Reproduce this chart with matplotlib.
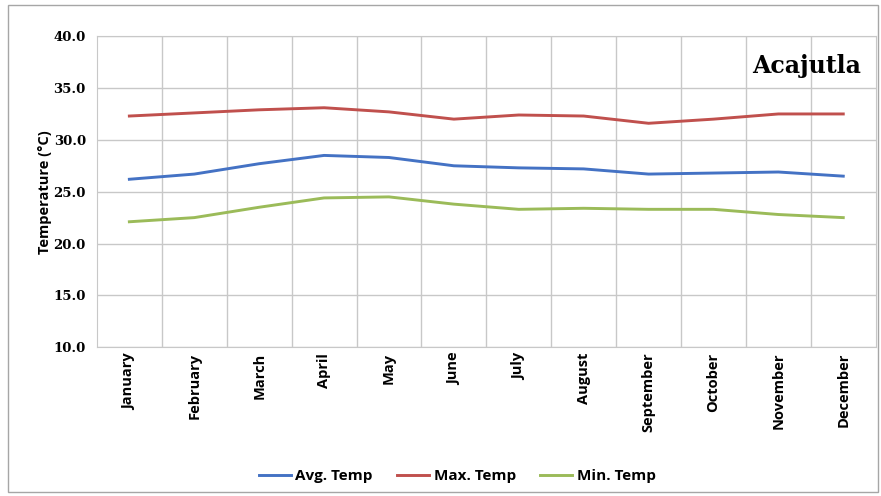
import numpy as np
import matplotlib.pyplot as plt
from matplotlib.patches import Rectangle

months = ['January', 'February', 'March', 'April', 'May', 'June',
          'July', 'August', 'September', 'October', 'November', 'December']
avg_temp = [26.2, 26.7, 27.7, 28.5, 28.3, 27.5, 27.3, 27.2, 26.7, 26.8, 26.9, 26.5]
max_temp = [32.3, 32.6, 32.9, 33.1, 32.7, 32.0, 32.4, 32.3, 31.6, 32.0, 32.5, 32.5]
min_temp = [22.1, 22.5, 23.5, 24.4, 24.5, 23.8, 23.3, 23.4, 23.3, 23.3, 22.8, 22.5]

fig = plt.figure(figsize=(8.81, 4.96), dpi=100)
ax = fig.add_axes([0.110, 0.300, 0.884, 0.627])

# outer chart border
fig.patches.append(Rectangle((0.009, 0.008), 0.988, 0.982, transform=fig.transFigure,
                             fill=False, edgecolor='#a6a6a6', linewidth=1.0))

x = np.arange(len(months))
ax.plot(x, avg_temp, color='#4472C4', lw=2.1, label='Avg. Temp')
ax.plot(x, max_temp, color='#C0504D', lw=2.1, label='Max. Temp')
ax.plot(x, min_temp, color='#9BBB59', lw=2.1, label='Min. Temp')

ax.set_xlim(-0.5, 11.5)
ax.set_ylim(10, 40)
ax.set_yticks(np.arange(10, 40.1, 5))
ax.set_yticklabels(['%.1f' % v for v in np.arange(10, 40.1, 5)],
                   fontfamily='DejaVu Serif', fontweight='bold', fontsize=9.5)
ax.set_xticks(x)
ax.set_xticklabels(months, rotation=90, fontfamily='Open Sans', fontweight='bold', fontsize=10.5)
ax.set_xticks(np.arange(0.5, 11, 1), minor=True)
ax.tick_params(axis='both', which='both', length=0)
ax.tick_params(axis='x', pad=4)
ax.tick_params(axis='y', pad=8)
ax.grid(True, axis='y', color='#c8c8c8', lw=1)
ax.grid(True, axis='x', which='minor', color='#c8c8c8', lw=1)
for s in ax.spines.values():
    s.set_color('#c8c8c8')

ax.set_ylabel('Temperature (°C)', fontfamily='Open Sans', fontweight='bold', fontsize=10.5, labelpad=0)
ax.yaxis.set_label_coords(-0.058, 0.5)
ax.text(0.981, 0.905, 'Acajutla', transform=ax.transAxes, ha='right', va='center',
        fontfamily='DejaVu Serif', fontweight='bold', fontsize=17)

ax.legend(loc='center', bbox_to_anchor=(0.519, 0.04), bbox_transform=fig.transFigure,
          ncol=3, frameon=False, handlelength=2.1, handletextpad=0.3, columnspacing=1.6,
          prop={'family': 'Open Sans', 'weight': 'bold', 'size': 11})

plt.savefig('out.png')
